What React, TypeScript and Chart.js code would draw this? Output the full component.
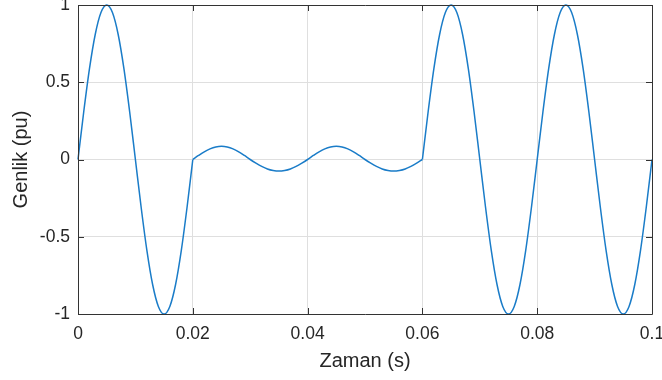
import React, { useEffect, useRef } from "react";
import { Chart, registerables } from "chart.js";

Chart.register(...registerables);

// Sampling instants (s)
const timeS = [
  0, 0.001, 0.002, 0.003, 0.004, 0.005, 0.006, 0.007, 0.008, 0.009,
  0.01, 0.011, 0.012, 0.013, 0.014, 0.015, 0.016, 0.017, 0.018, 0.019,
  0.02, 0.021, 0.022, 0.023, 0.024, 0.025, 0.026, 0.027, 0.028, 0.029,
  0.03, 0.031, 0.032, 0.033, 0.034, 0.035, 0.036, 0.037, 0.038, 0.039,
  0.04, 0.041, 0.042, 0.043, 0.044, 0.045, 0.046, 0.047, 0.048, 0.049,
  0.05, 0.051, 0.052, 0.053, 0.054, 0.055, 0.056, 0.057, 0.058, 0.059,
  0.06, 0.061, 0.062, 0.063, 0.064, 0.065, 0.066, 0.067, 0.068, 0.069,
  0.07, 0.071, 0.072, 0.073, 0.074, 0.075, 0.076, 0.077, 0.078, 0.079,
  0.08, 0.081, 0.082, 0.083, 0.084, 0.085, 0.086, 0.087, 0.088, 0.089,
  0.09, 0.091, 0.092, 0.093, 0.094, 0.095, 0.096, 0.097, 0.098, 0.099,
  0.1,
];

// 0 – 0.02 s : normal cycle
const normalCycleA = [
  0, 0.309, 0.588, 0.809, 0.951, 1, 0.951, 0.809, 0.588, 0.309,
  0, -0.309, -0.588, -0.809, -0.951, -1, -0.951, -0.809, -0.588, -0.309,
  0,
];

// 0.021 – 0.06 s : interruption / deep sag
const sagSection = [
  0.026, 0.05, 0.069, 0.081, 0.085, 0.081, 0.069, 0.05, 0.026, 0,
  -0.023, -0.044, -0.061, -0.071, -0.075, -0.071, -0.061, -0.044, -0.023, 0,
  0.026, 0.05, 0.069, 0.081, 0.085, 0.081, 0.069, 0.05, 0.026, 0,
  -0.023, -0.044, -0.061, -0.071, -0.075, -0.071, -0.061, -0.044, -0.023, 0,
];

// 0.061 – 0.1 s : recovered cycles
const normalCycleB = [
  0.309, 0.588, 0.809, 0.951, 1, 0.951, 0.809, 0.588, 0.309, 0,
  -0.309, -0.588, -0.809, -0.951, -1, -0.951, -0.809, -0.588, -0.309, 0,
  0.309, 0.588, 0.809, 0.951, 1, 0.951, 0.809, 0.588, 0.309, 0,
  -0.309, -0.588, -0.809, -0.951, -1, -0.951, -0.809, -0.588, -0.309, 0,
];

const amplitudePu = [...normalCycleA, ...sagSection, ...normalCycleB];

// indices where the waveform changes abruptly (t = 0.02 s and t = 0.06 s)
const breakIndices = [0, 20, 60, 100];

const xTickValues = [0, 0.02, 0.04, 0.06, 0.08, 0.1];
const xTickLabels = ["0", "0.02", "0.04", "0.06", "0.08", "0.1"];
const yTickValues = [-1, -0.5, 0, 0.5, 1];
const yTickLabels = ["-1", "-0.5", "0", "0.5", "1"];

const xTitle = "Zaman (s)";
const yTitle = "Genlik (pu)";

const FONT = "'Liberation Sans', Arial, Helvetica, sans-serif";
const TEXT = "#262626";
const LINE = "#1a7cc8";

const boxPlugin = {
  id: "matlabBox",
  afterDraw(chart: any) {
    const { ctx, chartArea } = chart;
    const { left, right, top, bottom } = chartArea;
    const xs = chart.scales.x;
    const ys = chart.scales.y;
    const tl = 6;
    ctx.save();
    ctx.strokeStyle = "#333333";
    ctx.lineWidth = 1;
    ctx.beginPath();
    ctx.rect(Math.round(left) + 0.5, Math.round(top) + 0.5, Math.round(right - left), Math.round(bottom - top));
    ctx.stroke();
    ctx.beginPath();
    xTickValues.forEach((v) => {
      const px = Math.round(xs.getPixelForValue(v)) + 0.5;
      ctx.moveTo(px, bottom);
      ctx.lineTo(px, bottom - tl);
      ctx.moveTo(px, top);
      ctx.lineTo(px, top + tl);
    });
    yTickValues.forEach((v) => {
      const py = Math.round(ys.getPixelForValue(v)) + 0.5;
      ctx.moveTo(left, py);
      ctx.lineTo(left + tl, py);
      ctx.moveTo(right, py);
      ctx.lineTo(right - tl, py);
    });
    ctx.stroke();
    ctx.restore();
  },
};

export default function App() {
  const ref = useRef<HTMLCanvasElement | null>(null);

  useEffect(() => {
    document.body.style.margin = "0";
    const canvas = ref.current;
    if (!canvas) return;
    const points = timeS.map((t, i) => ({ x: t, y: amplitudePu[i] }));
    const datasets = breakIndices.slice(0, -1).map((start, k) => ({
      data: points.slice(start, breakIndices[k + 1] + 1),
      borderColor: LINE,
      borderWidth: 1.5,
      pointRadius: 0,
      fill: false,
      cubicInterpolationMode: "monotone",
      clip: false,
    })) as any[];
    const chart = new Chart(canvas, {
      type: "line",
      data: { datasets },
      options: {
        responsive: false,
        animation: false,
        layout: { padding: { top: 5, right: 10, left: 0, bottom: 0 } },
        plugins: { legend: { display: false }, tooltip: { enabled: false } },
        scales: {
          x: {
            type: "linear",
            min: 0,
            max: 0.1,
            afterBuildTicks: (s: any) => {
              s.ticks = xTickValues.map((v) => ({ value: v }));
            },
            afterFit: (s: any) => {
              s.height = 66;
              s.paddingLeft = 0;
              s.paddingRight = 0;
            },
            ticks: {
              autoSkip: false,
              maxRotation: 0,
              padding: 10,
              color: TEXT,
              font: { family: FONT, size: 17.5 },
              callback: (v: any) => {
                const i = xTickValues.findIndex((t) => Math.abs(t - Number(v)) < 1e-9);
                return i >= 0 ? xTickLabels[i] : "";
              },
            },
            grid: { color: "#dfdfdf", lineWidth: 1, drawTicks: false },
            border: { display: false },
            title: {
              display: true,
              text: xTitle,
              color: TEXT,
              font: { family: FONT, size: 20 },
              padding: { top: 0, bottom: 7 },
            },
          },
          y: {
            type: "linear",
            min: -1,
            max: 1,
            afterBuildTicks: (s: any) => {
              s.ticks = yTickValues.map((v) => ({ value: v }));
            },
            afterFit: (s: any) => {
              s.width = 78;
              s.paddingTop = 0;
              s.paddingBottom = 0;
            },
            ticks: {
              autoSkip: false,
              padding: 8,
              color: TEXT,
              font: { family: FONT, size: 17.5 },
              callback: (v: any) => {
                const i = yTickValues.findIndex((t) => Math.abs(t - Number(v)) < 1e-9);
                return i >= 0 ? yTickLabels[i] : "";
              },
            },
            grid: { color: "#dfdfdf", lineWidth: 1, drawTicks: false },
            border: { display: false },
            title: {
              display: true,
              text: yTitle,
              color: TEXT,
              font: { family: FONT, size: 20 },
              padding: { top: 9, bottom: 0 },
            },
          },
        },
      },
      plugins: [boxPlugin],
    });
    return () => chart.destroy();
  }, []);

  return (
    <div style={{ position: "absolute", left: 0, top: 0, width: 662, height: 380, background: "#fff" }}>
      <canvas ref={ref} width={662} height={380} style={{ display: "block" }} />
    </div>
  );
}
